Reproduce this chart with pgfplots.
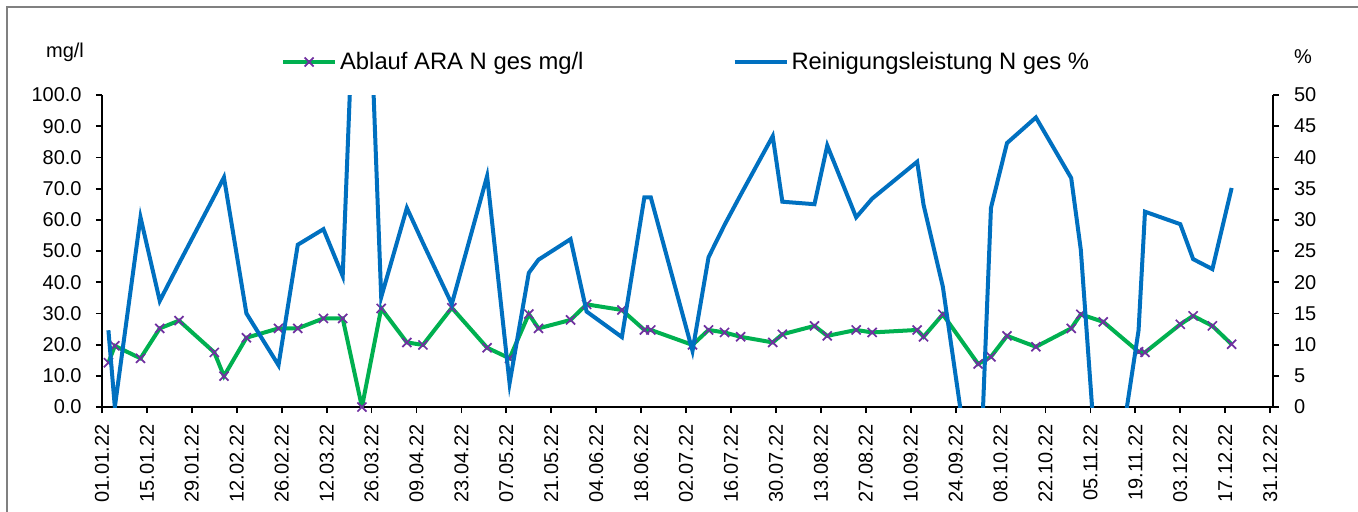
\documentclass[border=0pt]{standalone}
\usepackage{fontspec}
\setmainfont{Liberation Sans}
\usepackage{pgfplots}
\pgfplotsset{compat=1.18}
\usepackage{pgfplotstable}

\definecolor{cgreen}{RGB}{0,176,80}
\definecolor{cpurple}{RGB}{112,48,160}
\definecolor{cblue}{RGB}{0,112,192}

\pgfplotstableread{
day green blue
2 14.2 12.3
4 19.6 0
12 15.6 30.4
18 25.2 17.0
24 27.7 23.0
35 17.5 33.8
38 9.9 36.8
45 22.2 15.0
55 25.2 6.7
61 25.2 26.0
69 28.4 28.5
75 28.4 21.0
81 0.0 100
87 31.6 17.6
95 20.7 31.9
100 19.9 26.3
109 31.8 16.5
120 19.0 37.0
127 15.6 3.8
133 29.8 21.5
136 25.2 23.6
146 27.9 26.9
151 32.9 15.3
162 31.1 11.2
169 24.7 33.6
171 24.7 33.6
184 19.9 9.0
189 24.7 24.0
194 23.9 29.2
199 22.5 34.0
209 20.7 43.4
212 23.3 32.9
222 26.0 32.5
226 22.8 41.9
235 24.7 30.4
240 23.9 33.4
254 24.7 39.3
256 22.5 32.4
262 29.7 19.3
273 13.8 -20
277 16.1 31.9
282 22.8 42.3
291 19.3 46.4
302 25.2 36.7
305 29.7 25.2
312 27.3 -25
323 17.7 12.3
325 17.5 31.3
336 26.5 29.3
340 29.2 23.7
346 26.0 22.1
352 20.1 35.1
}\datatable

\pgfplotsset{
  common/.style={
    scale only axis, width=585.35pt, height=156pt,
    xmin=0, xmax=364.8,
    tick align=outside,
    major tick length=3pt,
    every tick/.style={black, line width=0.9pt},
    axis line style={black, line width=0.9pt},
    tick label style={font=\fontsize{10}{12}\selectfont},
    clip mode=individual,
  }
}

\begin{document}
\begin{tikzpicture}
\useasboundingbox (-51pt,-52pt) rectangle (628pt,203.5pt);
\draw[gray, line width=0.6pt] (-47.5pt,-60pt) -- (-47.5pt,200pt) -- (640pt,200pt);
\node[font=\fontsize{10}{12}\selectfont] at (-18.5pt,177.5pt) {mg/l};
\node[font=\fontsize{10}{12}\selectfont] at (600.5pt,175pt) {\%};

\begin{axis}[common,
  ymin=0, ymax=100,
  axis y line*=left, axis x line*=bottom,
  xtick={0,14,...,364},
  xticklabels={01.01.22,15.01.22,29.01.22,12.02.22,26.02.22,12.03.22,26.03.22,09.04.22,23.04.22,07.05.22,21.05.22,04.06.22,18.06.22,02.07.22,16.07.22,30.07.22,13.08.22,27.08.22,10.09.22,24.09.22,08.10.22,22.10.22,05.11.22,19.11.22,03.12.22,17.12.22,31.12.22},
  xticklabel style={rotate=90, anchor=east, inner sep=0pt},
  xticklabel shift=5.5pt,
  ytick={0,10,...,100},
  yticklabel style={anchor=east, inner sep=0pt, xshift=-7pt,
    /pgf/number format/.cd, fixed, fixed zerofill, precision=1, assume math mode=true},
  legend style={draw=none, fill=none, inner sep=0pt, outer sep=0pt,
    at={(axis description cs:0.153,1.106)}, anchor=west,
    font=\fontsize{11.9}{13}\selectfont,
    /tikz/every even column/.append style={column sep=73pt},
    nodes={inner sep=1.5pt}},
  legend columns=2,
  legend image code/.code={\draw[mark repeat=2,mark phase=2,#1] plot coordinates {(0pt,0pt) (13pt,0pt) (26pt,0pt)};},
]
\addplot[cgreen, line width=2pt, mark=x, mark size=3.2pt,
  mark options={cpurple, line width=0.85pt}] table[x=day, y=green] {\datatable};
\addlegendentry{Ablauf ARA N ges mg/l}
\addlegendimage{cblue, line width=2pt}
\addlegendentry{Reinigungsleistung N ges \%}
\end{axis}

\begin{axis}[common,
  ymin=0, ymax=50,
  axis y line*=right, axis x line=none,
  ytick={0,5,...,50},
  yticklabel style={anchor=west, inner sep=0pt, xshift=7.5pt,
    /pgf/number format/.cd, fixed, precision=0, assume math mode=true},
]
\addplot[cblue, line width=2pt, no marks] table[x=day, y=blue] {\datatable};
\end{axis}
\end{tikzpicture}
\end{document}
